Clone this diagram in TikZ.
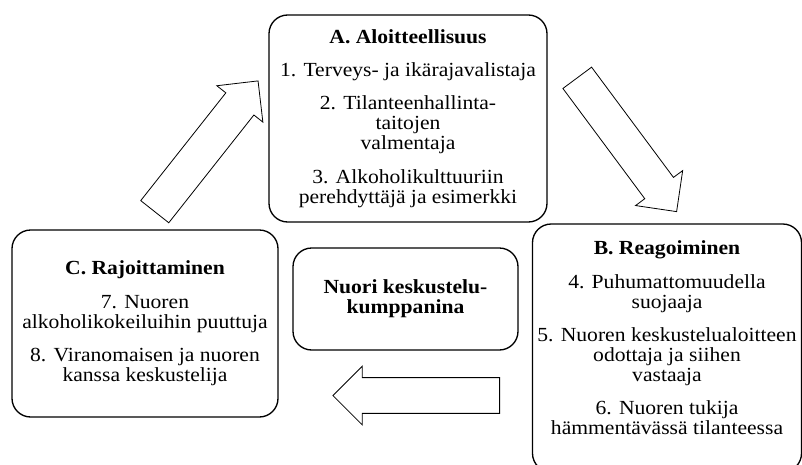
\documentclass[tikz,border=0pt]{standalone}
\usepackage{fontspec}
\setmainfont{Liberation Serif}[FakeStretch=1.08]
\usetikzlibrary{shapes.arrows}

\tikzset{
    roundbox/.style={draw, line width=1pt, rounded corners=14pt, align=center,
        inner sep=0pt, font=\fontsize{15}{15}\selectfont},
    blockarrow/.style={single arrow, draw, line width=0.6pt, inner sep=13.1pt,
        single arrow head extend=8.6pt, minimum height=125pt, anchor=tail}
}

\begin{document}
\begin{tikzpicture}[x=0.75pt,y=-0.75pt]
    \clip (0,0) rectangle (802,464);

    \node[roundbox, minimum width=208.5pt, minimum height=155.25pt] (a) at (408,118.5)
        {\textbf{A. Aloitteellisuus}\\[10pt]
         1. Terveys- ja ikärajavalistaja\\[10pt]
         2. Tilanteenhallinta-\\taitojen\\valmentaja\\[10pt]
         3. Alkoholikulttuuriin\\perehdyttäjä ja esimerkki};
    \node[roundbox, minimum width=201.75pt, minimum height=186pt, text depth=15pt] (b) at (667,348)
        {\textbf{B. Reagoiminen}\\[10pt]
         4. Puhumattomuudella\\suojaaja\\[10pt]
         5. Nuoren keskustelualoitteen\\odottaja ja siihen\\vastaaja\\[10pt]
         6. Nuoren tukija\\hämmentävässä tilanteessa};
    \node[roundbox, minimum width=199.5pt, minimum height=140.25pt] (c) at (145,323.5)
        {\textbf{C. Rajoittaminen}\\[10pt]
         7. Nuoren\\alkoholikokeiluihin puuttuja\\[10pt]
         8. Viranomaisen ja nuoren\\kanssa keskustelija};
    \node[roundbox, minimum width=168.75pt, minimum height=76.5pt] (nuori) at (405.5,299)
        {\textbf{Nuori keskustelu-}\\\textbf{kumppanina}};

    \node[blockarrow, rotate=51.7] (ca) at (154.5,212) {};
    \node[blockarrow, rotate=-53.4] (ab) at (577,77.5) {};
    \node[blockarrow, rotate=180] (bc) at (500,395.5) {};
\end{tikzpicture}
\end{document}
